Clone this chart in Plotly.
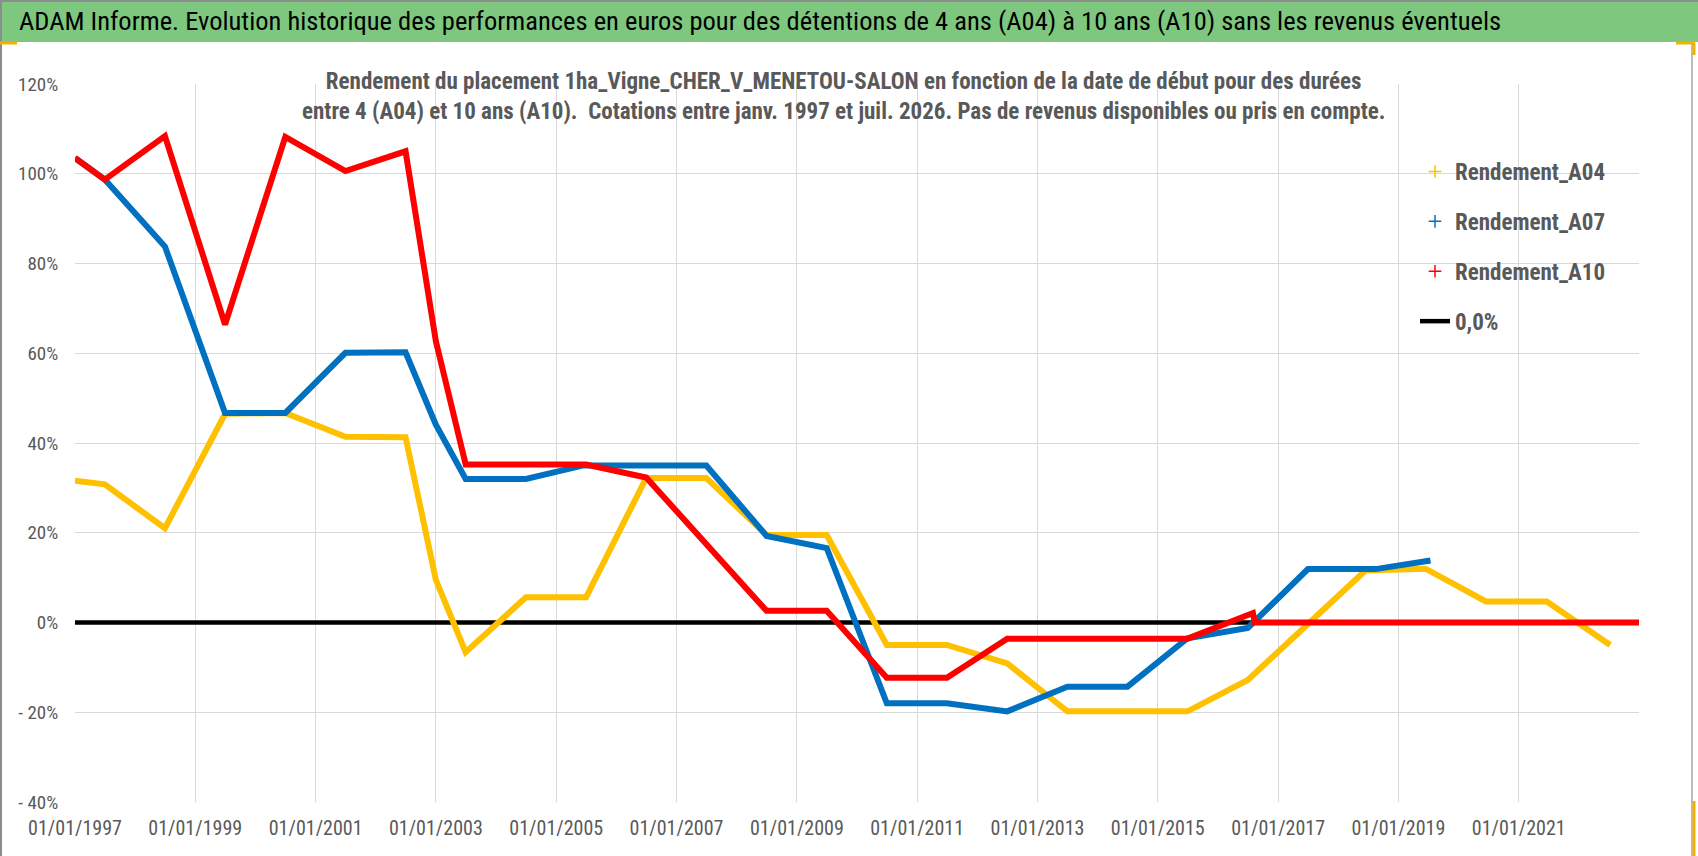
import plotly.graph_objects as go

# --- data (breakpoints of each curve) ---
dates_a04 = ["1997-01-01", "1997-07-01", "1998-07-01", "1999-07-01", "2000-07-01",
             "2001-07-01", "2002-07-01", "2003-01-01", "2003-07-01", "2004-07-01",
             "2005-07-01", "2006-07-01", "2007-07-01", "2008-07-01", "2009-07-01",
             "2010-07-01", "2011-07-01", "2012-07-01", "2013-07-01", "2015-07-01",
             "2016-07-01", "2018-06-15", "2019-06-15", "2020-06-15", "2021-06-20",
             "2022-07-10"]
rend_a04 = [31.6, 30.8, 21.0, 46.5, 46.7,
            41.4, 41.3, 9.5, -6.6, 5.6,
            5.6, 32.2, 32.2, 19.5, 19.5,
            -5.0, -5.0, -9.1, -19.8, -19.8,
            -12.8, 11.6, 12.0, 4.7, 4.7,
            -5.0]

dates_a07 = ["1997-01-01", "1997-07-01", "1998-07-01", "1999-07-01", "2000-07-01",
             "2001-07-01", "2002-07-01", "2003-01-01", "2003-07-01", "2004-07-01",
             "2005-06-15", "2007-07-01", "2008-07-01", "2009-07-01", "2010-07-01",
             "2011-07-01", "2012-07-01", "2013-07-01", "2014-07-01", "2015-07-01",
             "2016-07-01", "2017-07-01", "2018-08-15", "2019-07-15"]
rend_a07 = [103.5, 98.7, 83.8, 46.7, 46.7,
            60.1, 60.2, 44.1, 32.0, 32.0,
            35.0, 35.0, 19.3, 16.6, -18.0,
            -18.0, -19.8, -14.3, -14.3, -3.5,
            -1.2, 11.9, 11.9, 13.8]

dates_a10 = ["1997-01-01", "1997-07-01", "1998-07-01", "1999-07-01", "2000-07-01",
             "2001-07-01", "2002-07-01", "2003-01-01", "2003-07-01", "2005-07-01",
             "2006-07-01", "2008-07-01", "2009-07-01", "2010-07-01", "2011-07-01",
             "2012-07-01", "2015-07-01", "2016-08-01", "2016-08-12", "2023-01-01"]
rend_a10 = [103.5, 98.7, 108.4, 66.4, 108.2,
            100.6, 105.0, 62.7, 35.2, 35.2,
            32.3, 2.6, 2.6, -12.3, -12.3,
            -3.6, -3.6, 2.1, 0.0, 0.0]

dates_zero = ["1997-01-01", "2023-01-01"]
rend_zero = [0.0, 0.0]

x_ticks = ["1997-01-01", "1999-01-01", "2001-01-01", "2003-01-01", "2005-01-01",
           "2007-01-01", "2009-01-01", "2011-01-01", "2013-01-01", "2015-01-01",
           "2017-01-01", "2019-01-01", "2021-01-01"]
x_labels = ["01/01/1997", "01/01/1999", "01/01/2001", "01/01/2003", "01/01/2005",
            "01/01/2007", "01/01/2009", "01/01/2011", "01/01/2013", "01/01/2015",
            "01/01/2017", "01/01/2019", "01/01/2021"]
y_ticks = [-40, -20, 0, 20, 40, 60, 80, 100, 120]
y_labels = ["- 40%", "- 20%", "0%", "20%", "40%", "60%", "80%", "100%", "120%"]

names = ["Rendement_A04", "Rendement_A07", "Rendement_A10", "0,0%"]
colors = ["#FFC000", "#0070C0", "#FF0000", "#000000"]

FONT = "Liberation Sans Narrow, Roboto Condensed, Roboto, sans-serif"
GREY = "#595959"

# plot area in pixels: left 75, right 1639, top 84, bottom 802
L, R, T, B = 75, 59, 84, 54
W, H = 1698, 856
PW, PH = W - L - R, H - T - B


def px(x):
    return (x - L) / PW


def py(y):
    return (H - B - y) / PH


fig = go.Figure()

# black 0% line first (drawn underneath)
fig.add_trace(go.Scatter(x=dates_zero, y=rend_zero, mode="lines",
                         line=dict(color=colors[3], width=4.5),
                         name=names[3], showlegend=False))

series = [(dates_a04, rend_a04), (dates_a07, rend_a07), (dates_a10, rend_a10)]
for (d, v), c, n in zip(series, colors[:3], names[:3]):
    fig.add_trace(go.Scatter(x=d, y=v, mode="lines",
                             line=dict(color=c, width=6),
                             name=n, showlegend=False))

# legend entries
for c, n in zip(colors[:3], names[:3]):
    fig.add_trace(go.Scatter(x=[None], y=[None], mode="markers", name=n,
                             legendgroup=n,
                             marker=dict(symbol="cross-thin", size=9,
                                         line=dict(color=c, width=1.5))))
fig.add_trace(go.Scatter(x=[None], y=[None], mode="lines", name=names[3],
                         legendgroup=names[3],
                         line=dict(color=colors[3], width=4.5)))

shapes = [
    # header band
    dict(type="rect", xref="paper", yref="paper", x0=px(0), x1=px(W), y0=py(42), y1=py(2),
         fillcolor="#7DC87E", line=dict(width=0), layer="below"),
    # white cover behind subtitle and legend
    dict(type="rect", xref="paper", yref="paper", x0=px(317), x1=px(1375), y0=py(131), y1=1.01,
         fillcolor="white", line=dict(width=0), layer="between"),
    dict(type="rect", xref="paper", yref="paper", x0=px(1383), x1=1.005, y0=py(346), y1=py(148),
         fillcolor="white", line=dict(width=0), layer="between"),
    # frame
    dict(type="line", xref="paper", yref="paper", x0=px(0), x1=px(W), y0=py(1), y1=py(1),
         line=dict(color="#8C8C8C", width=2)),
    dict(type="line", xref="paper", yref="paper", x0=px(1), x1=px(1), y0=py(0), y1=py(H),
         line=dict(color="#8C8C8C", width=2)),
    dict(type="line", xref="paper", yref="paper", x0=px(1692), x1=px(1692), y0=py(44), y1=py(H),
         line=dict(color="#A6A6A6", width=1.5)),
    # selection handles
    dict(type="line", xref="paper", yref="paper", x0=px(0), x1=px(17), y0=py(43), y1=py(43),
         line=dict(color="#F2B200", width=3)),
    dict(type="line", xref="paper", yref="paper", x0=px(1676), x1=px(1695), y0=py(43), y1=py(43),
         line=dict(color="#F2B200", width=3)),
    dict(type="line", xref="paper", yref="paper", x0=px(1694), x1=px(1694), y0=py(43), y1=py(55),
         line=dict(color="#F2B200", width=3)),
    dict(type="line", xref="paper", yref="paper", x0=px(1694), x1=px(1694), y0=py(801), y1=py(H),
         line=dict(color="#F2B200", width=3)),
]

annotations = [
    dict(xref="paper", yref="paper", x=px(17), y=py(21), xanchor="left", yanchor="middle",
         showarrow=False,
         text="ADAM Informe. Evolution historique des performances en euros pour des détentions "
              "de 4 ans (A04) à 10 ans (A10) sans les revenus éventuels",
         font=dict(family=FONT, size=26.5, color="black")),
    dict(xref="paper", yref="paper", x=px(843), y=py(97), xanchor="center", yanchor="middle",
         showarrow=False, align="center",
         text="<b>Rendement du placement 1ha_Vigne_CHER_V_MENETOU-SALON en fonction de la date de "
              "début pour des durées<br>entre 4 (A04) et 10 ans (A10).  Cotations entre janv. 1997 "
              "et juil. 2026. Pas de revenus disponibles ou pris en compte.</b>",
         font=dict(family=FONT, size=23, color=GREY)),
]

fig.update_layout(
    width=W, height=H,
    margin=dict(l=L, r=R, t=T, b=B),
    paper_bgcolor="white", plot_bgcolor="white",
    shapes=shapes, annotations=annotations,
    legend=dict(x=px(1415), y=py(150), xanchor="left", yanchor="top",
                bgcolor="rgba(0,0,0,0)", tracegroupgap=17,
                font=dict(family=FONT, size=23, color=GREY, weight="bold")),
)
fig.update_xaxes(type="date", range=["1997-01-01", "2023-01-01"],
                 tickmode="array", tickvals=x_ticks, ticktext=x_labels,
                 showgrid=True, gridcolor="#D9D9D9", gridwidth=1,
                 ticks="outside", ticklen=8, tickcolor="rgba(0,0,0,0)",
                 tickfont=dict(family=FONT, size=20, color=GREY),
                 zeroline=False, showline=False)
fig.update_yaxes(range=[-40, 120], tickmode="array", tickvals=y_ticks, ticktext=y_labels,
                 showgrid=True, gridcolor="#D9D9D9", gridwidth=1,
                 ticks="outside", ticklen=12, tickcolor="rgba(0,0,0,0)",
                 tickfont=dict(family=FONT, size=19, color=GREY),
                 zeroline=False, showline=False)

# page without the default body margin so the figure sits at the window corner
fig.write_html("out.html", config={"displayModeBar": False},
               post_script="document.body.style.margin = '0px';")
